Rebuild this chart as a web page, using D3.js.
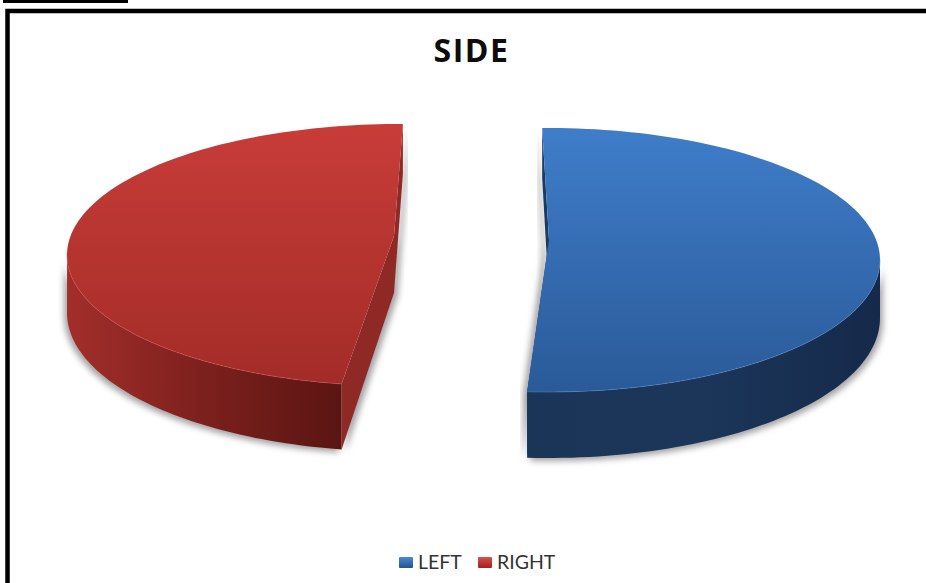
<!DOCTYPE html>
<html lang="en">
<head>
    <meta charset="UTF-8">
    <title>SIDE</title>
    <script src="https://d3js.org/d3.v7.min.js"></script>
    <style>
        html, body { margin: 0; padding: 0; background: #fff; }
        svg { display: block; }
    </style>
</head>
<body>
    <svg></svg>

    <script>
        const chartTitle = "SIDE";
        const categories = ["LEFT", "RIGHT"];
        const values = [52, 48];

        const width = 926;
        const height = 583;

        const svg = d3.select("svg")
            .attr("width", width)
            .attr("height", height);

        const deg = Math.PI / 180;

        // each exploded slice has its own ellipse, tip and small turn (perspective of the 3D pie)
        const layout = [
            { cx: 548, cy: 260, rx: 332, ry: 132, tip: [549, 240], turn: 0,
              top: ["#3f7dca", "#2a5a98"], rim: "#4f88cc", inner: "#1b3a63",
              wall: ["#1a3558", "#1b3659", "#15294a"], legend: ["#4a8ad6", "#24528c"] },
            { cx: 400, cy: 255, rx: 333, ry: 131, tip: [394, 236], turn: 4 * deg,
              top: ["#c83c38", "#a32c28"], rim: "#d0524c", inner: "#8f2925",
              wall: ["#a32e2a", "#7c201d", "#5a1512"], legend: ["#d8504a", "#a0221e"] }
        ];

        const pad = 2.5 * deg;
        const pie = d3.pie().sort(null).padAngle(pad)
            .startAngle(-2.25 * deg).endAngle(357.75 * deg);
        const slices = pie(values);

        // the sides of the pie are a bit shorter at the back than at the front
        const depth = d3.scaleLinear().domain([125, 392]).range([50, 66]);
        const line = d3.line();

        function rim(s, a) {
            return [s.cx + s.rx * Math.sin(a), s.cy - s.ry * Math.cos(a)];
        }
        function drop(p) {
            return [p[0], p[1] + depth(p[1])];
        }
        function arcPoints(s, a0, a1) {
            return d3.range(0, 121).map(i => rim(s, a0 + (a1 - a0) * i / 120));
        }

        const defs = svg.append("defs");
        const blur = defs.append("filter").attr("id", "soft")
            .attr("x", "-10%").attr("y", "-10%").attr("width", "120%").attr("height", "120%");
        blur.append("feGaussianBlur").attr("stdDeviation", 3);

        function gradient(id, colors, horizontal) {
            const g = defs.append("linearGradient").attr("id", id)
                .attr("x1", 0).attr("y1", 0)
                .attr("x2", horizontal ? 1 : 0).attr("y2", horizontal ? 0 : 1);
            colors.forEach((c, i) => {
                g.append("stop").attr("offset", i / (colors.length - 1)).attr("stop-color", c);
            });
        }

        layout.forEach((s, i) => {
            gradient("top" + i, s.top, false);
            gradient("wall" + i, s.wall, true);
            gradient("key" + i, s.legend, false);
        });

        // frame and the rule left over from the page above it
        svg.append("path")
            .attr("d", line([[7.5, height], [7.5, 11], [width, 11]]))
            .attr("fill", "none").attr("stroke", "#000").attr("stroke-width", 4.5);
        svg.append("line")
            .attr("x1", 3).attr("x2", 128).attr("y1", 1.5).attr("y2", 1.5)
            .attr("stroke", "#000").attr("stroke-width", 3);

        svg.append("text")
            .attr("x", 471.5).attr("y", 62)
            .attr("text-anchor", "middle")
            .attr("font-family", "'Open Sans', sans-serif")
            .attr("font-weight", 700)
            .attr("font-size", 32)
            .attr("letter-spacing", 1.5)
            .attr("fill", "#0d0d0d")
            .text(chartTitle);

        const pieces = svg.selectAll("g.slice")
            .data(slices)
            .enter().append("g")
            .attr("class", "slice");

        pieces.each(function(d, i) {
            const s = layout[i];
            const g = d3.select(this);
            const a0 = d.startAngle + pad / 2 + s.turn;
            const a1 = d.endAngle - pad / 2 + s.turn;
            const start = rim(s, a0);
            const end = rim(s, a1);
            const edge = arcPoints(s, a0, a1);
            const face = [s.tip].concat(edge);

            // only the part of the rim facing us has a visible side
            const front = edge.filter(p => p[1] >= s.cy - 4);
            const outer = front.concat(front.map(drop).reverse());
            const sideA = [s.tip, start, drop(start), drop(s.tip)];
            const sideB = [s.tip, end, drop(end), drop(s.tip)];

            // soft shadow under the slice
            g.append("path")
                .attr("d", line(outer.map(p => [p[0] + (i ? -3 : 3), p[1] + 3])) + "Z")
                .attr("fill", "#555").attr("opacity", 0.55)
                .attr("filter", "url(#soft)");
            [sideA, sideB].forEach(w => {
                g.append("path")
                    .attr("d", line(w.map(p => [p[0] + (i ? 4 : -4), p[1] + 2])) + "Z")
                    .attr("fill", "#555").attr("opacity", 0.55)
                    .attr("filter", "url(#soft)");
            });

            [sideA, sideB].forEach(w => {
                g.append("path").attr("d", line(w) + "Z").attr("fill", s.inner);
            });
            g.append("path")
                .attr("d", line(outer) + "Z")
                .attr("fill", `url(#wall${i})`);
            g.append("path")
                .attr("d", line(face) + "Z")
                .attr("fill", `url(#top${i})`);
            g.append("path")
                .attr("d", line(front))
                .attr("fill", "none")
                .attr("stroke", s.rim).attr("stroke-width", 1).attr("opacity", 0.5);
        });

        // legend
        const legendX = d3.scalePoint().domain(categories).range([399, 478]);
        const legend = svg.selectAll("g.key")
            .data(categories)
            .enter().append("g")
            .attr("class", "key")
            .attr("transform", d => `translate(${legendX(d)},562)`);

        legend.append("rect")
            .attr("x", 0).attr("y", -5).attr("width", 14).attr("height", 11).attr("rx", 1)
            .attr("fill", (d, i) => `url(#key${i})`);

        legend.append("text")
            .attr("x", 19).attr("y", 6.5)
            .attr("font-family", "Lato, 'Open Sans', sans-serif")
            .attr("font-size", 19.5)
            .attr("fill", "#333")
            .text(d => d);
    </script>
</body>
</html>
